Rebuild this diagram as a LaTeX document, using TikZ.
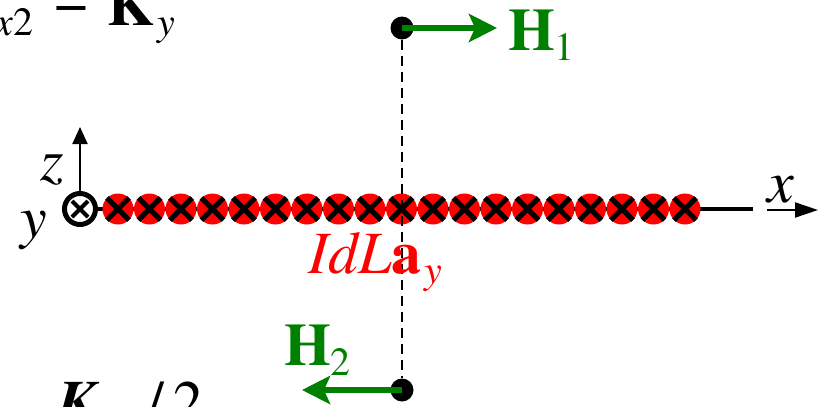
\documentclass[tikz,border=0pt]{standalone}
\usepackage{fontspec}
\setmainfont{texgyretermes}[Extension=.otf,UprightFont=*-regular,BoldFont=*-bold,ItalicFont=*-italic,BoldItalicFont=*-bolditalic]
\usetikzlibrary{arrows.meta}
\definecolor{hgreen}{RGB}{0,128,0}
\newcommand{\bigf}{\fontsize{60}{62}\selectfont}
\newcommand{\subf}{\fontsize{40}{42}\selectfont}
\begin{document}
\begin{tikzpicture}[x=1pt,y=-1pt,
  coil/.style={circle,fill=red,minimum size=31pt,inner sep=0pt},
  xmark/.style={line width=5pt},
  dotnode/.style={circle,fill=black,minimum size=23pt,inner sep=0pt},
  harrow/.style={hgreen,line width=6.5pt,-{Stealth[length=28pt,width=28pt,inset=6pt]}},
  lbl/.style={inner sep=0pt,anchor=base west,font=\bigf}
]
\useasboundingbox (0,0) rectangle (828,407);
% top-left partial formula
\node[lbl,anchor=base east,font=\subf] (tx) at (34,35) {\textit{x}2};
\node[inner sep=0pt,font=\bigf] (teq) at (71,8) {=};
\node[lbl] (tK) at (107,25) {\textbf{K}\hspace{4pt}\raisebox{-10pt}{\subf\textit{y}}};
% bottom-left partial formula
\node[lbl] (bK) at (57,422) {\textbf{\textit{K}}\hspace{48pt}/\,2};
% main wire
\node[circle,draw,line width=5pt,minimum size=31pt,inner sep=0pt] (yax) at (80,209) {};
\draw[line width=4pt] (yax.center) ++(8,8) -- ++(-16,-16);
\draw[line width=4pt] (yax.center) ++(-8,8) -- ++(16,-16);
\coordinate (wend) at (753,209);
\draw[line width=4.5pt] (yax.east) -- (wend);
\foreach \i in {0,...,18}{
  \node[coil] (c\i) at (118+31.5*\i,209) {};
  \draw[xmark] (c\i.north west) -- (c\i.south east);
  \draw[xmark] (c\i.south west) -- (c\i.north east);
}
% axes
\coordinate (ztip) at (80,127);
\draw[line width=2pt,-{Triangle[length=17pt,width=15pt]}] (yax.north) -- (ztip);
\node[lbl] (zl) at (40,180) {\textit{z}};
\node[lbl] (yl) at (20,237) {\textit{y}};
\coordinate (xs) at (767,210);
\coordinate (xe) at (818,210);
\draw[line width=2pt,-{Triangle[length=23pt,width=15pt]}] (xs) -- (xe);
\node[lbl] (xl) at (767,202) {\textit{x}};
% field points
\node[dotnode] (p1) at (402,28) {};
\node[dotnode] (p2) at (402,390) {};
\draw[line width=1.8pt,dash pattern=on 10pt off 6pt] (p1) -- (p2);
\coordinate (h1tip) at (497,28);
\coordinate (h2tip) at (302,390);
\draw[harrow] (p1.center) -- (h1tip);
\draw[harrow] (p2.center) -- (h2tip);
\node[lbl,text=hgreen] (h1) at (508,50) {\textbf{H}\raisebox{-10pt}{\subf 1}};
\node[lbl,text=hgreen] (h2) at (284,365) {\textbf{H}\raisebox{-10pt}{\subf 2}};
% current element label
\node[lbl,text=red] (idl) at (308,273) {\textit{IdL}\textbf{a}\hspace{3pt}\raisebox{-10pt}{\subf\textit{y}}};
\end{tikzpicture}
\end{document}
